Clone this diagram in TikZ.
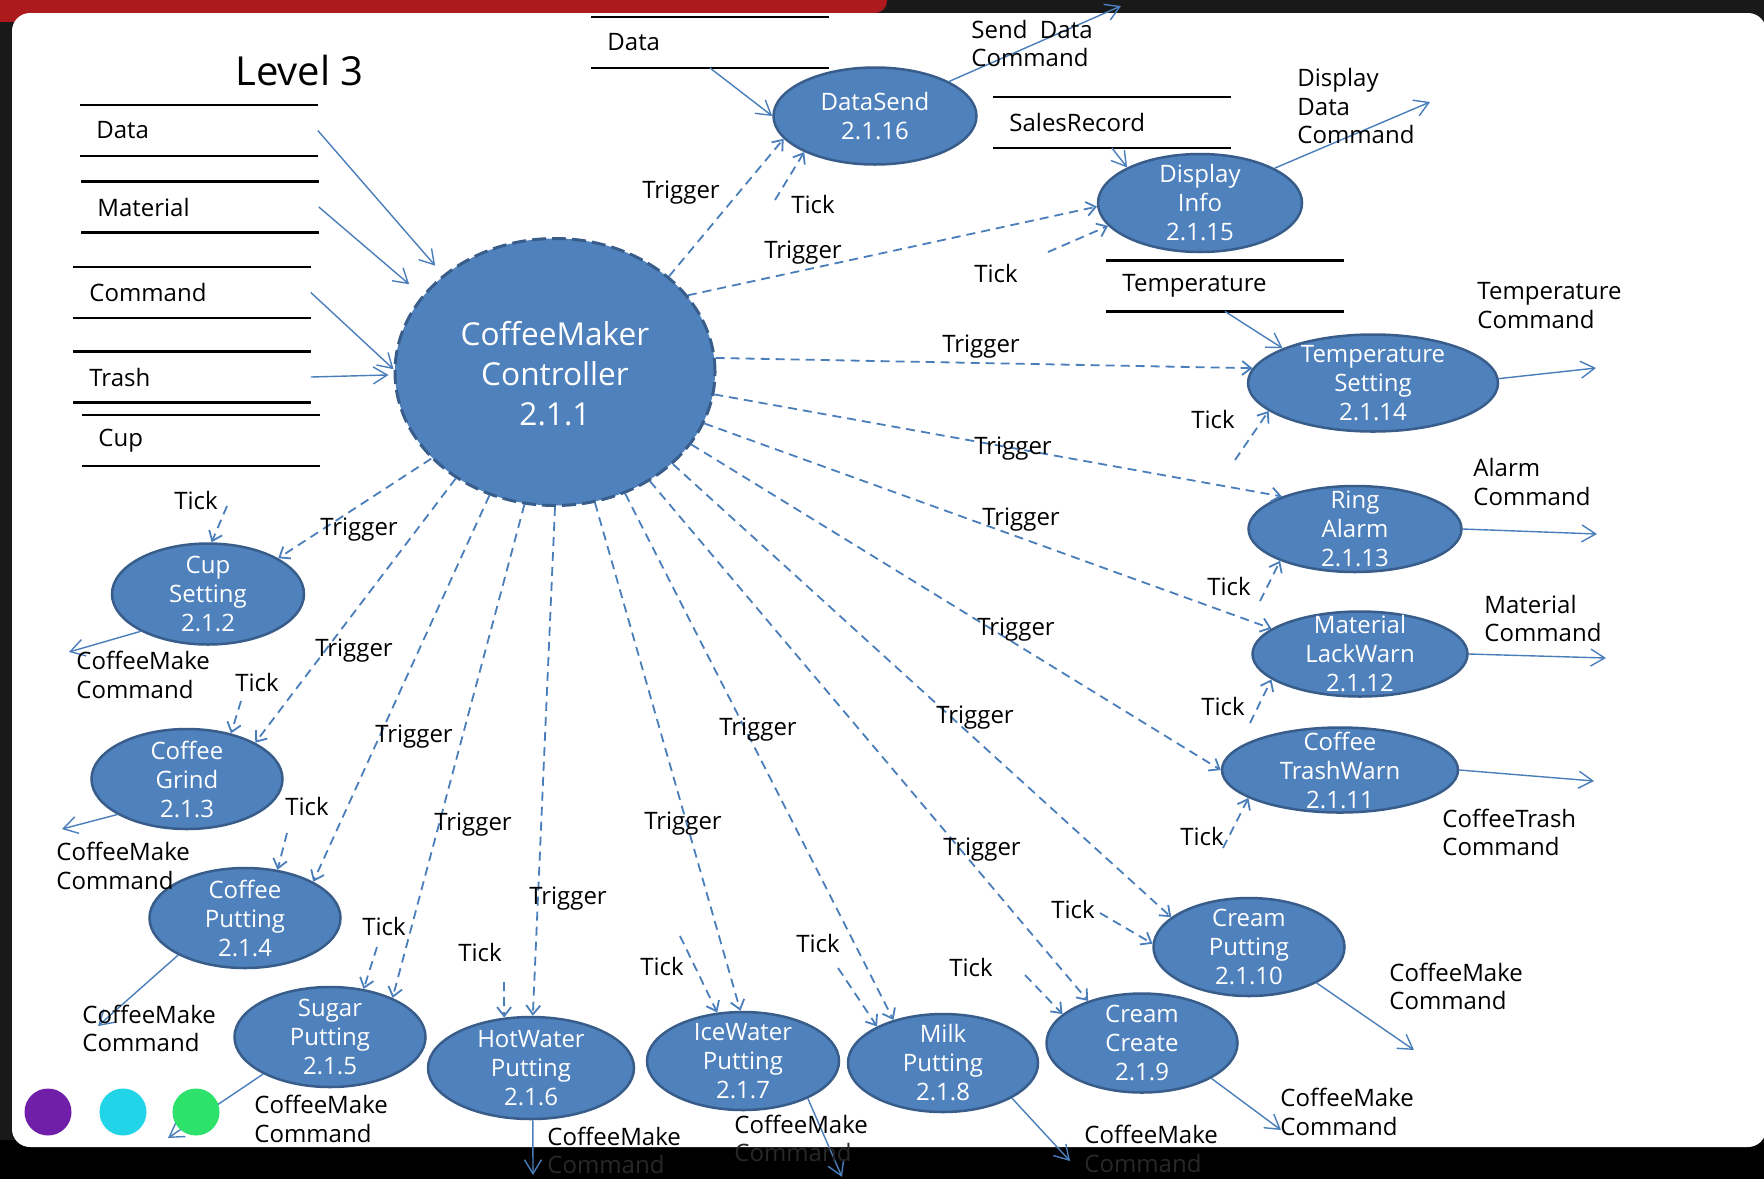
\documentclass[tikz,border=0pt]{standalone}
\usepackage{fontspec}
\setmainfont{Open Sans}
\usepackage{tikz}
\usetikzlibrary{arrows.meta,shapes.geometric}
\definecolor{procfill}{RGB}{79,129,189}
\definecolor{procline}{RGB}{56,93,138}
\definecolor{flow}{RGB}{74,126,187}
\definecolor{slidered}{RGB}{172,26,30}
\definecolor{dotpurple}{RGB}{112,32,168}
\definecolor{dotcyan}{RGB}{34,212,232}
\definecolor{dotgreen}{RGB}{44,226,106}
\definecolor{bandgray}{RGB}{40,40,40}

\begin{document}
\begin{tikzpicture}[x=0.5pt,y=-0.5pt]
\tikzstyle{proc}=[ellipse,draw=procline,line width=1.25pt,fill=procfill,inner sep=0pt]
\tikzstyle{proctext}=[text=white,align=center,inner sep=0pt,font=\fontsize{12}{14.5}\selectfont]
\tikzstyle{store}=[anchor=west,text width=102.5pt,inner xsep=8pt,inner ysep=0pt,minimum height=25pt,align=left,font=\fontsize{12}{14.3}\selectfont]
\tikzstyle{lbl}=[inner sep=0pt,font=\fontsize{12}{14.3}\selectfont]
\tikzstyle{outlbl}=[lbl,anchor=west,align=left]
\tikzstyle{flowline}=[draw=flow,line width=0.7pt,-{Straight Barb[length=7pt,width=8.5pt]}]
\tikzstyle{trig}=[draw=flow,line width=0.9pt,dash pattern=on 4.5pt off 3pt,-{Straight Barb[length=4.5pt,width=7pt]}]

\useasboundingbox (0,0) rectangle (1764,1179);
\fill[black!90] (0,0) rectangle (1764,1179);
\fill[black] (0,1140) rectangle (1764,1179);
\fill[slidered,rounded corners=6pt] (-30,-30) rectangle (887,13);
\fill[slidered] (0,0) rectangle (45,22);
\fill[white,rounded corners=9pt] (12,13) rectangle (1766,1147);

\node[anchor=west,inner sep=0pt,font=\fontsize{20}{24}\selectfont] (title) at (235,70) {Level 3};

% data stores
\node[store] (sdata) at (80,130.5) {Data};
\node[store] (smat) at (81,207) {Material};
\node[store] (scmd) at (73,292.5) {Command};
\node[store] (strash) at (73,377) {Trash};
\node[store] (scup) at (82,440.5) {Cup};
\node[store] (sdata2) at (591,42.5) {Data};
\node[store] (ssales) at (993,122.5) {SalesRecord};
\node[store] (stemp) at (1106,286) {Temperature};
\draw[line width=1.3pt] (sdata.north west) -- (sdata.north east) (sdata.south west) -- (sdata.south east);
\draw[line width=1.3pt] (smat.north west) -- (smat.north east) (smat.south west) -- (smat.south east);
\draw[line width=1.3pt] (scmd.north west) -- (scmd.north east) (scmd.south west) -- (scmd.south east);
\draw[line width=1.3pt] (strash.north west) -- (strash.north east) (strash.south west) -- (strash.south east);
\draw[line width=1.3pt] (scup.north west) -- (scup.north east) (scup.south west) -- (scup.south east);
\draw[line width=1.3pt] (sdata2.north west) -- (sdata2.north east) (sdata2.south west) -- (sdata2.south east);
\draw[line width=1.3pt] (ssales.north west) -- (ssales.north east) (ssales.south west) -- (ssales.south east);
\draw[line width=1.3pt] (stemp.north west) -- (stemp.north east) (stemp.south west) -- (stemp.south east);

% processes
\node[proc,line width=1.5pt,dash pattern=on 7pt off 3pt,minimum width=160pt,minimum height=133.5pt,
  label={[proctext,yshift=-1pt,font=\fontsize{15.8}{20}\selectfont]center:{CoffeeMaker\\Controller\\2.1.1}}] (ctrl) at (555,372) {};
\node[proc,minimum width=101.5pt,minimum height=48.5pt,label={[proctext]center:{DataSend\\2.1.16}}] (dsend) at (875,116) {};
\node[proc,minimum width=102pt,minimum height=49pt,label={[proctext]center:{Display\\Info\\2.1.15}}] (dinfo) at (1200,203) {};
\node[proc,minimum width=125pt,minimum height=48.5pt,label={[proctext]center:{Temperature\\Setting\\2.1.14}}] (tset) at (1373,383) {};
\node[proc,minimum width=106.5pt,minimum height=43pt,label={[proctext]center:{Ring\\Alarm\\2.1.13}}] (ralarm) at (1355,529) {};
\node[proc,minimum width=107.5pt,minimum height=42.5pt,label={[proctext]center:{Material\\LackWarn\\2.1.12}}] (mlack) at (1360,654) {};
\node[proc,minimum width=118pt,minimum height=42.5pt,label={[proctext]center:{Coffee\\TrashWarn\\2.1.11}}] (ctrash) at (1340,770) {};
\node[proc,minimum width=95.5pt,minimum height=49pt,label={[proctext]center:{Cream\\Putting\\2.1.10}}] (cput) at (1249,947) {};
\node[proc,minimum width=95.5pt,minimum height=49.5pt,label={[proctext]center:{Cream\\Create\\2.1.9}}] (ccreate) at (1142,1043) {};
\node[proc,minimum width=95pt,minimum height=49pt,label={[proctext]center:{Milk\\Putting\\2.1.8}}] (milk) at (943,1063) {};
\node[proc,minimum width=96pt,minimum height=49pt,label={[proctext]center:{IceWater\\Putting\\2.1.7}}] (ice) at (743,1061) {};
\node[proc,minimum width=103pt,minimum height=51pt,label={[proctext]center:{HotWater\\Putting\\2.1.6}}] (hot) at (531,1068) {};
\node[proc,minimum width=95.5pt,minimum height=50pt,label={[proctext]center:{Sugar\\Putting\\2.1.5}}] (sugar) at (330,1037) {};
\node[proc,minimum width=95.5pt,minimum height=50pt,label={[proctext]center:{Coffee\\Putting\\2.1.4}}] (coffput) at (245,918) {};
\node[proc,minimum width=95.5pt,minimum height=50pt,label={[proctext]center:{Coffee\\Grind\\2.1.3}}] (grind) at (187,779) {};
\node[proc,minimum width=96pt,minimum height=50.5pt,label={[proctext]center:{Cup\\Setting\\2.1.2}}] (cupset) at (208,594) {};

% store inputs
\draw[flowline,shorten >=6pt] (sdata.east) -- (ctrl.139);
\draw[flowline,shorten >=8.5pt] (smat.east) -- (ctrl.150);
\draw[flowline] (scmd.east) -- (ctrl.179);
\draw[flowline,shorten >=2.5pt] (strash.east) -- (ctrl.181);
\draw[flowline] (sdata2.south) -- (dsend.west);
\draw[flowline] (ssales.south) -- (dinfo.154);
\draw[flowline] (stemp.south) -- (tset.159);

% triggers
\draw[trig] (ctrl.40) -- (dsend.194);
\draw[trig] (ctrl.30) -- (dinfo.182);
\draw[trig] (ctrl.5) -- (tset.173);
\draw[trig] (ctrl.-8) -- (ralarm.156);
\draw[trig] (ctrl.-19) -- (mlack.164);
\draw[trig] (ctrl.-28) -- (ctrash.180);
\draw[trig] (ctrl.-38) -- (cput.159);
\draw[trig] (ctrl.-49) -- (ccreate.142);
\draw[trig] (ctrl.-60) -- (milk.139);
\draw[trig] (ctrl.-73) -- (ice.93);
\draw[trig] (ctrl.-90) -- (hot.88);
\draw[trig] (ctrl.-103) -- (sugar.32);
\draw[trig] (ctrl.-118) -- (coffput.28);
\draw[trig] (ctrl.-133) -- (grind.28);
\draw[trig] (ctrl.-145) -- (cupset.27);
\node[lbl] (tg1) at (681,193) {Trigger};
\node[lbl] (tg2) at (803,253) {Trigger};
\node[lbl] (tg3) at (981,347) {Trigger};
\node[lbl] (tg4) at (1013,449) {Trigger};
\node[lbl] (tg5) at (1021,520) {Trigger};
\node[lbl] (tg6) at (1016,630) {Trigger};
\node[lbl] (tg7) at (975,718) {Trigger};
\node[lbl] (tg8) at (982,850) {Trigger};
\node[lbl] (tg9) at (758,730) {Trigger};
\node[lbl] (tg10) at (683,824) {Trigger};
\node[lbl] (tg11) at (568,899) {Trigger};
\node[lbl] (tg12) at (473,825) {Trigger};
\node[lbl] (tg13) at (414,737) {Trigger};
\node[lbl] (tg14) at (354,651) {Trigger};
\node[lbl] (tg15) at (359,530) {Trigger};

% ticks
\coordinate (tk-dsend) at (775,200);
\coordinate (tk-dinfo) at (1048,252);
\coordinate (tk-tset) at (1235,460);
\coordinate (tk-ralarm) at (1260,601);
\coordinate (tk-mlack) at (1250,723);
\coordinate (tk-ctrash) at (1223,848);
\coordinate (tk-cput) at (1100,913);
\coordinate (tk-ccreate) at (1025,975);
\coordinate (tk-milk) at (838,968);
\coordinate (tk-ice) at (680,936);
\coordinate (tk-hot) at (504,982);
\coordinate (tk-sugar) at (377,947);
\coordinate (tk-coffput) at (287,833);
\coordinate (tk-grind) at (241,701);
\coordinate (tk-cupset) at (227,506);
\draw[trig] (tk-dsend) -- (dsend.207);
\draw[trig] (tk-dinfo) -- (dinfo.194);
\draw[trig] (tk-tset) -- (tset.195);
\draw[trig] (tk-ralarm) -- (ralarm.203);
\draw[trig] (tk-mlack) -- (mlack.196);
\draw[trig] (tk-ctrash) -- (ctrash.197);
\draw[trig] (tk-cput) -- (cput.178);
\draw[trig] (tk-ccreate) -- (ccreate.160);
\draw[trig] (tk-milk) -- (milk.151);
\draw[trig] (tk-ice) -- (ice.118);
\draw[trig] (tk-hot) -- (hot.118);
\draw[trig] (tk-sugar) -- (sugar.55);
\draw[trig] (tk-coffput) -- (coffput.56);
\draw[trig] (tk-grind) -- (grind.46);
\draw[trig] (tk-cupset) -- (cupset.86);
\node[lbl] (tl1) at (813,204) {Tick};
\node[lbl] (tl2) at (996,273) {Tick};
\node[lbl] (tl3) at (1213,419) {Tick};
\node[lbl] (tl4) at (1229,586) {Tick};
\node[lbl] (tl5) at (1223,706) {Tick};
\node[lbl] (tl6) at (1202,836) {Tick};
\node[lbl] (tl7) at (1073,909) {Tick};
\node[lbl] (tl8) at (971,967) {Tick};
\node[lbl] (tl9) at (818,943) {Tick};
\node[lbl] (tl10) at (662,966) {Tick};
\node[lbl] (tl11) at (480,952) {Tick};
\node[lbl] (tl12) at (384,926) {Tick};
\node[lbl] (tl13) at (307,806) {Tick};
\node[lbl] (tl14) at (257,682) {Tick};
\node[lbl] (tl15) at (196,500) {Tick};

% outputs
\coordinate (out-dsend) at (1121,6);
\coordinate (out-dinfo) at (1430,102);
\coordinate (out-tset) at (1596,368);
\coordinate (out-ralarm) at (1597,534);
\coordinate (out-mlack) at (1606,658);
\coordinate (out-ctrash) at (1594,781);
\coordinate (out-cput) at (1414,1050);
\coordinate (out-ccreate) at (1281,1130);
\coordinate (out-milk) at (1070,1161);
\coordinate (out-ice) at (842,1177);
\coordinate (out-hot) at (533,1175);
\coordinate (out-sugar) at (168,1138);
\coordinate (out-coffput) at (98,1026);
\coordinate (out-grind) at (62,829);
\coordinate (out-cupset) at (69,652);
\draw[flowline] (dsend.25) -- (out-dsend);
\draw[flowline] (dinfo.25) -- (out-dinfo);
\draw[flowline] (tset.2) -- (out-tset);
\draw[flowline] (ralarm.0) -- (out-ralarm);
\draw[flowline] (mlack.0) -- (out-mlack);
\draw[flowline] (ctrash.0) -- (out-ctrash);
\draw[flowline] (cput.-28) -- (out-cput);
\draw[flowline] (ccreate.-27) -- (out-ccreate);
\draw[flowline] (milk.-27) -- (out-milk);
\draw[flowline] (ice.-30) -- (out-ice);
\draw[flowline] (hot.-88) -- (out-hot);
\draw[flowline] (sugar.209) -- (out-sugar);
\draw[flowline] (coffput.209) -- (out-coffput);
\draw[flowline] (grind.207) -- (out-grind);
\draw[flowline] (cupset.209) -- (out-cupset);
\node[outlbl] (ol1) at (971,43.5) {Send~ Data\\Command};
\node[outlbl] (ol2) at (1297,106) {Display\\Data\\Command};
\node[outlbl] (ol3) at (1477,305.5) {Temperature\\Command};
\node[outlbl] (ol4) at (1473,482) {Alarm\\Command};
\node[outlbl] (ol5) at (1484,618.5) {Material\\Command};
\node[outlbl] (ol6) at (1442,832.5) {CoffeeTrash\\Command};
\node[outlbl] (ol7) at (1389,986.5) {CoffeeMake\\Command};
\node[outlbl] (ol8) at (1280,1112) {CoffeeMake\\Command};
\node[outlbl] (ol9) at (1084,1149) {CoffeeMake\\\textcolor{bandgray}{Command}};
\node[outlbl] (ol10) at (734,1138.5) {CoffeeMake\\\textcolor{bandgray}{Command}};
\node[outlbl] (ol11) at (547,1150.5) {CoffeeMake\\\textcolor{bandgray}{Command}};
\node[outlbl] (ol12) at (254,1119) {CoffeeMake\\Command};
\node[outlbl] (ol13) at (82,1028.5) {CoffeeMake\\Command};
\node[outlbl] (ol14) at (56,866) {CoffeeMake\\Command};
\node[outlbl] (ol15) at (76,675) {CoffeeMake\\Command};

\fill[dotpurple] (48,1112) circle (11.75pt);
\fill[dotcyan] (123,1112) circle (11.75pt);
\fill[dotgreen] (196,1112) circle (11.75pt);
\end{tikzpicture}
\end{document}
